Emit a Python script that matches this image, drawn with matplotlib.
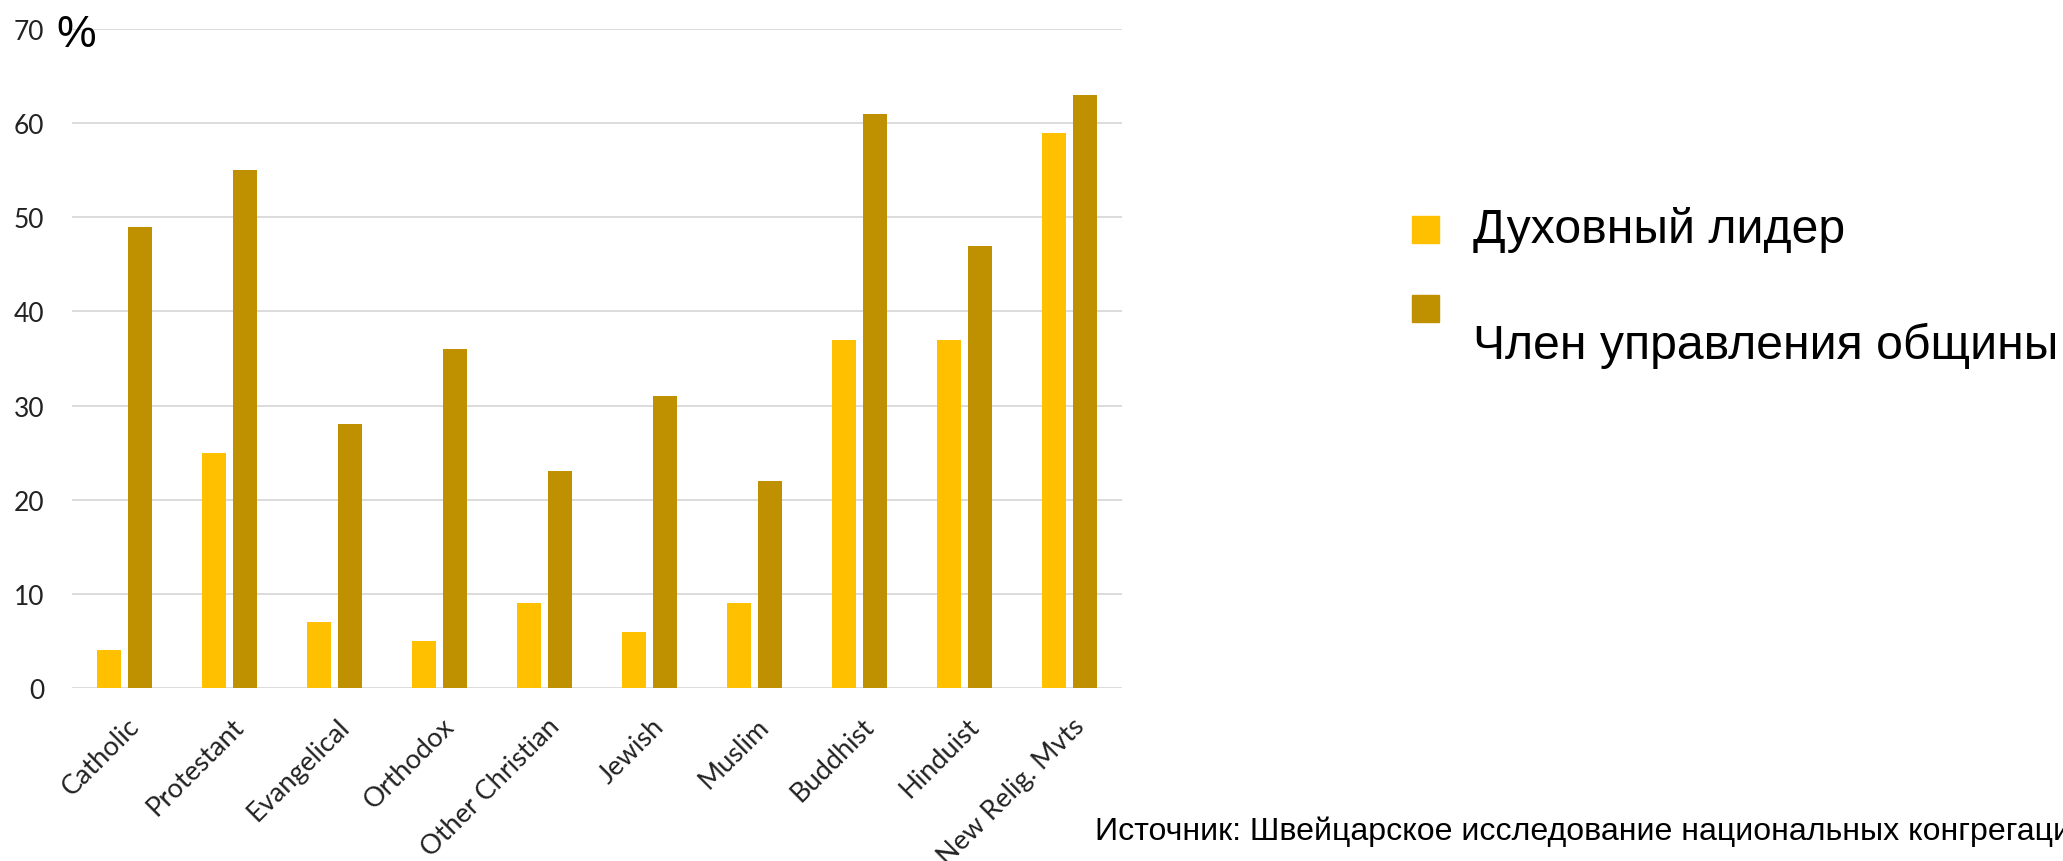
import matplotlib.pyplot as plt
import numpy as np
from matplotlib.patches import Rectangle
from matplotlib.transforms import ScaledTranslation

categories = ["Catholic", "Protestant", "Evangelical", "Orthodox", "Other Christian",
              "Jewish", "Muslim", "Buddhist", "Hinduist", "New Relig. Mvts"]
spiritual_leader = [4, 25, 7, 5, 9, 6, 9, 37, 37, 59]
board_member = [49, 55, 28, 36, 23, 31, 22, 61, 47, 63]
series_labels = ["Духовный лидер", "Член управления общины"]
series_colors = ["#FFC000", "#BF9000"]
yticks = [0, 10, 20, 30, 40, 50, 60, 70]
source = "Источник: Швейцарское исследование национальных конгрегаций"

W, H = 2063, 862
fig = plt.figure(figsize=(W / 100, H / 100), dpi=100)
ax = fig.add_axes([72 / W, 1 - 689 / H, 1050 / W, 659 / H])

x = np.arange(len(categories))
bw = 0.23
ax.bar(x - 0.148, spiritual_leader, bw, color=series_colors[0], zorder=3)
ax.bar(x + 0.148, board_member, bw, color=series_colors[1], zorder=3)

ax.set_xlim(-0.5, len(categories) - 0.5)
ax.set_ylim(0, 70)
ax.set_yticks(yticks)
ax.grid(axis="y", color="#D9D9D9", linewidth=1.3, zorder=0)
for s in ax.spines.values():
    s.set_visible(False)
ax.tick_params(axis="both", length=0, labelcolor="#222222")
ax.tick_params(axis="y", pad=20, labelsize=19)
ax.set_xticks(x)
ax.set_xticklabels(categories, rotation=45, ha="right", va="top",
                   rotation_mode="anchor", fontfamily="Lato", fontsize=19.5)
for lab in ax.get_yticklabels():
    lab.set_fontfamily("Lato")
ax.tick_params(axis="x", pad=18)
shift = ScaledTranslation(2 / 100, 0, fig.dpi_scale_trans)
for lab in ax.get_xticklabels():
    lab.set_transform(lab.get_transform() + shift)

fig.text(56 / W, 1 - 47 / H, "%", fontsize=32, family="Liberation Sans",
         va="baseline", ha="left")

# legend drawn by hand
sq = 27
for y0, col in zip([217, 296], series_colors):
    fig.patches.append(Rectangle((1412 / W, 1 - (y0 + sq) / H), sq / W, sq / H,
                                 transform=fig.transFigure, color=col))
fig.text(1473 / W, 1 - 243 / H, series_labels[0], fontsize=34.7,
         family="Liberation Sans", va="baseline")
fig.text(1473 / W, 1 - 359 / H, series_labels[1], fontsize=34.7,
         family="Liberation Sans", va="baseline")

fig.text(1095 / W, 1 - 840 / H, source, fontsize=23.1,
         family="Liberation Sans", va="baseline")

fig.savefig("out.png", dpi=100)
